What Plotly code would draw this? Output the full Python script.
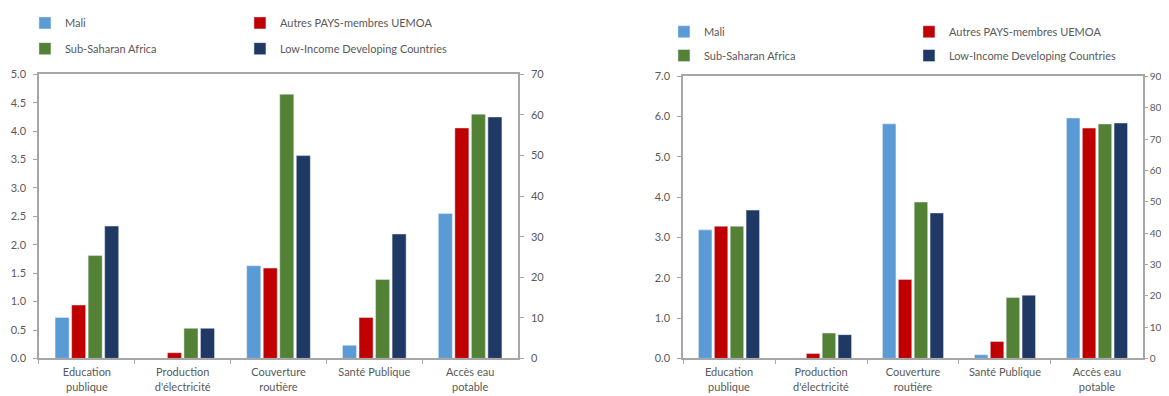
import plotly.graph_objects as go

# Categories (x axis) and series names
categories = [
    "Education<br>publique",
    "Production<br>d'électricité",
    "Couverture<br>routière",
    "Santé Publique",
    "Accès eau<br>potable",
]
series = ["Mali", "Autres PAYS-membres UEMOA", "Sub-Saharan Africa", "Low-Income Developing Countries"]

# Left chart: first four categories on left axis, last one (percent) on right axis
left_mali = [0.72, 0.0, 1.63, 0.23, 35.7]
left_uemoa = [0.94, 0.10, 1.59, 0.72, 56.8]
left_ssa = [1.81, 0.53, 4.65, 1.39, 60.2]
left_lidc = [2.33, 0.53, 3.57, 2.19, 59.5]

# Right chart
right_mali = [3.19, 0.0, 5.82, 0.09, 76.7]
right_uemoa = [3.28, 0.12, 1.96, 0.42, 73.5]
right_ssa = [3.28, 0.63, 3.88, 1.51, 74.8]
right_lidc = [3.68, 0.59, 3.61, 1.57, 75.1]

colors = ["#5b9bd5", "#c00000", "#538135", "#1f3864"]
legend_rows = [["legend", "legend", "legend2", "legend2"], ["legend3", "legend3", "legend4", "legend4"]]

charts = [
    dict(data=[left_mali, left_uemoa, left_ssa, left_lidc], x="x", y="y", y2="y2", group="L"),
    dict(data=[right_mali, right_uemoa, right_ssa, right_lidc], x="x2", y="y3", y2="y4", group="R"),
]

fig = go.Figure()
for ci, ch in enumerate(charts):
    for si, name in enumerate(series):
        vals = ch["data"][si]
        common = dict(
            marker_color=colors[si],
            offsetgroup=name,
            alignmentgroup=ch["group"],
            xaxis=ch["x"],
            hoverinfo="skip",
        )
        fig.add_trace(go.Bar(
            x=categories[:4], y=vals[:4], name=name, yaxis=ch["y"],
            legend=legend_rows[ci][si], **common,
        ))
        fig.add_trace(go.Bar(
            x=categories[4:], y=vals[4:], name=name, yaxis=ch["y2"],
            showlegend=False, **common,
        ))

axis_col = "#a6a6a6"
font_fam = "Lato, Arial, sans-serif"
tick_font = dict(family=font_fam, size=11, color="#595959")

xcommon = dict(
    type="category", categoryorder="array", categoryarray=categories,
    showline=True, linecolor=axis_col, linewidth=1.5, mirror=True,
    ticks="outside", tickson="boundaries", ticklen=4, tickcolor=axis_col,
    showgrid=False, tickfont=tick_font, fixedrange=True, automargin=False,
    ticklabelstandoff=3,
)
ycommon = dict(
    showline=True, linecolor=axis_col, linewidth=1.5,
    ticks="outside", tickcolor=axis_col,
    showgrid=False, zeroline=False, fixedrange=True,
    automargin=False,
)

leg = dict(orientation="h", xanchor="left", yanchor="middle",
           itemwidth=30, font=dict(family=font_fam, size=11, color="#595959"),
           bgcolor="rgba(0,0,0,0)", traceorder="normal")

# the page body has an 8px margin, so the figure is 8px smaller than the window
fig.update_layout(
    barmode="group",
    bargap=0.31,
    bargroupgap=0.15,
    width=1161,
    height=388,
    margin=dict(l=0, r=0, t=0, b=0),
    plot_bgcolor="white",
    paper_bgcolor="white",
    xaxis=dict(domain=[0.0267, 0.4393], anchor="y", **xcommon),
    yaxis=dict(domain=[0.0979, 0.8376], range=[0, 5], dtick=0.5, tickformat=".1f", anchor="x",
               ticklen=4, ticklabelstandoff=5, tickfont=tick_font, **ycommon),
    yaxis2=dict(overlaying="y", side="right", range=[0, 70], dtick=10, anchor="x",
                ticklen=4, ticklabelstandoff=5, tickfont=tick_font, **ycommon),
    xaxis2=dict(domain=[0.5814, 0.9776], anchor="y3", **xcommon),
    yaxis3=dict(domain=[0.0979, 0.8325], range=[0, 7], dtick=1, tickformat=".1f", anchor="x2",
                ticklen=4, ticklabelstandoff=5, tickfont=tick_font, **ycommon),
    yaxis4=dict(overlaying="y3", side="right", range=[0, 90], dtick=10, anchor="x2",
                ticklen=3, ticklabelstandoff=0, tickfont=dict(tick_font, size=10), **ycommon),
    legend=dict(x=0.0146, y=0.9716, entrywidth=170, **leg),
    legend2=dict(x=0.0146, y=0.9046, entrywidth=170, **leg),
    legend3=dict(x=0.565, y=0.9485, entrywidth=200, **leg),
    legend4=dict(x=0.565, y=0.8866, entrywidth=200, **leg),
)

fig.write_html("out.html")
